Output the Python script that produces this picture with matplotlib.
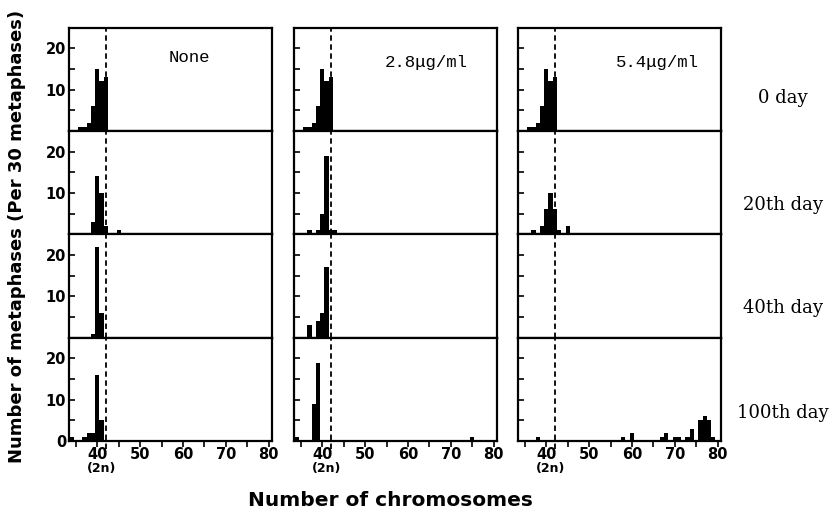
import matplotlib
matplotlib.use("Agg")
import matplotlib.pyplot as plt
import matplotlib.transforms as mtransforms

# chromosome number -> metaphase count for each panel
none_d0_x = [36, 37, 38, 39, 40, 41, 42]
none_d0_n = [1, 1, 2, 6, 15, 12, 13]
none_d20_x = [39, 40, 41, 42, 45]
none_d20_n = [3, 14, 10, 2, 1]
none_d40_x = [39, 40, 41]
none_d40_n = [1, 22, 6]
none_d100_x = [33, 34, 37, 38, 39, 40, 41]
none_d100_n = [1, 1, 1, 2, 2, 16, 5]

low_d0_x = [36, 37, 38, 39, 40, 41, 42]
low_d0_n = [1, 1, 2, 6, 15, 12, 13]
low_d20_x = [37, 39, 40, 41, 42, 43]
low_d20_n = [1, 1, 5, 19, 1, 1]
low_d40_x = [37, 39, 40, 41]
low_d40_n = [3, 4, 6, 17]
low_d100_x = [34, 38, 39, 75]
low_d100_n = [1, 9, 19, 1]

high_d0_x = [36, 37, 38, 39, 40, 41, 42]
high_d0_n = [1, 1, 2, 6, 15, 12, 13]
high_d20_x = [37, 39, 40, 41, 42, 43, 45]
high_d20_n = [1, 2, 6, 10, 6, 1, 2]
high_d40_x = []
high_d40_n = []
high_d100_x = [38, 58, 60, 67, 68, 70, 71, 73, 74, 76, 77, 78, 79]
high_d100_n = [1, 1, 2, 1, 2, 1, 1, 1, 3, 5, 6, 5, 1]

doses = ["None", "2.8\u03bcg/ml", "5.4\u03bcg/ml"]
days = ["0 day", "20th day", "40th day", "100th day"]
diploid = 42

panels = [
    [(none_d0_x, none_d0_n), (none_d20_x, none_d20_n),
     (none_d40_x, none_d40_n), (none_d100_x, none_d100_n)],
    [(low_d0_x, low_d0_n), (low_d20_x, low_d20_n),
     (low_d40_x, low_d40_n), (low_d100_x, low_d100_n)],
    [(high_d0_x, high_d0_n), (high_d20_x, high_d20_n),
     (high_d40_x, high_d40_n), (high_d100_x, high_d100_n)],
]

W, H = 836, 520
fig = plt.figure(figsize=(W / 100, H / 100), dpi=100)

col_left = [69, 294, 518]
col_w = 203
row_top = 27.5
row_h = 103.4
tick_font = dict(family="DejaVu Sans", weight="bold", size=10.5)

for c in range(3):
    for r in range(4):
        top = row_top + r * row_h
        ax = fig.add_axes([col_left[c] / W, 1 - (top + row_h) / H, col_w / W, row_h / H])
        xs, ns = panels[c][r]
        if xs:
            ax.bar(xs, ns, width=1.0, color="black", linewidth=0)
        ax.set_xlim(33.4, 80.8)
        ax.set_ylim(0, 25)
        for s in ax.spines.values():
            s.set_linewidth(1.6)
        ax.set_yticks([5, 10, 15, 20])
        ax.tick_params(axis="y", direction="in", length=4, width=1.2, pad=2)
        if c == 0:
            ax.set_yticklabels(["", "10", "", "20"], **tick_font)
        else:
            ax.set_yticklabels([])
        if r == 3:
            ax.set_xticks(range(35, 81, 5))
            ax.set_xticklabels(["" if v % 10 else str(v) for v in range(35, 81, 5)], **tick_font)
            ax.tick_params(axis="x", direction="out", length=4, width=1.2, pad=0.5)
            ax.axvline(diploid, ymin=-0.08, ymax=1, color="black", lw=1.3,
                       ls=(0, (3, 2)), clip_on=False)
            trans = mtransforms.blended_transform_factory(ax.transData, ax.transAxes)
            ax.text(41, -0.265, "(2n)", transform=trans, ha="center", va="center",
                    family="DejaVu Sans", weight="bold", size=9)
            if c == 0:
                ax.set_yticks([0, 5, 10, 15, 20])
                ax.set_yticklabels(["0", "", "10", "", "20"], **tick_font)
        else:
            ax.set_xticks([])
            ax.axvline(diploid, color="black", lw=1.3, ls=(0, (3, 2)))

# dose labels inside the top panels
for txt, (px, py) in zip(doses, [(189, 58), (426, 62), (657, 62)]):
    fig.text(px / W, 1 - py / H, txt, family="Liberation Mono", size=12.5,
             ha="center", va="center")

# day labels on the right
for txt, py in zip(days, [98, 205, 308, 413]):
    fig.text(783 / W, 1 - py / H, txt, family="DejaVu Serif", size=13,
             ha="center", va="center")

fig.text(17 / W, 1 - 236 / H, "Number of metaphases (Per 30 metaphases)",
         rotation=90, ha="center", va="center", family="DejaVu Sans",
         weight="bold", size=13)
fig.text(390 / W, 1 - 500 / H, "Number of chromosomes", ha="center", va="center",
         family="DejaVu Sans", weight="bold", size=14.5)

fig.savefig("out.png", dpi=100)
